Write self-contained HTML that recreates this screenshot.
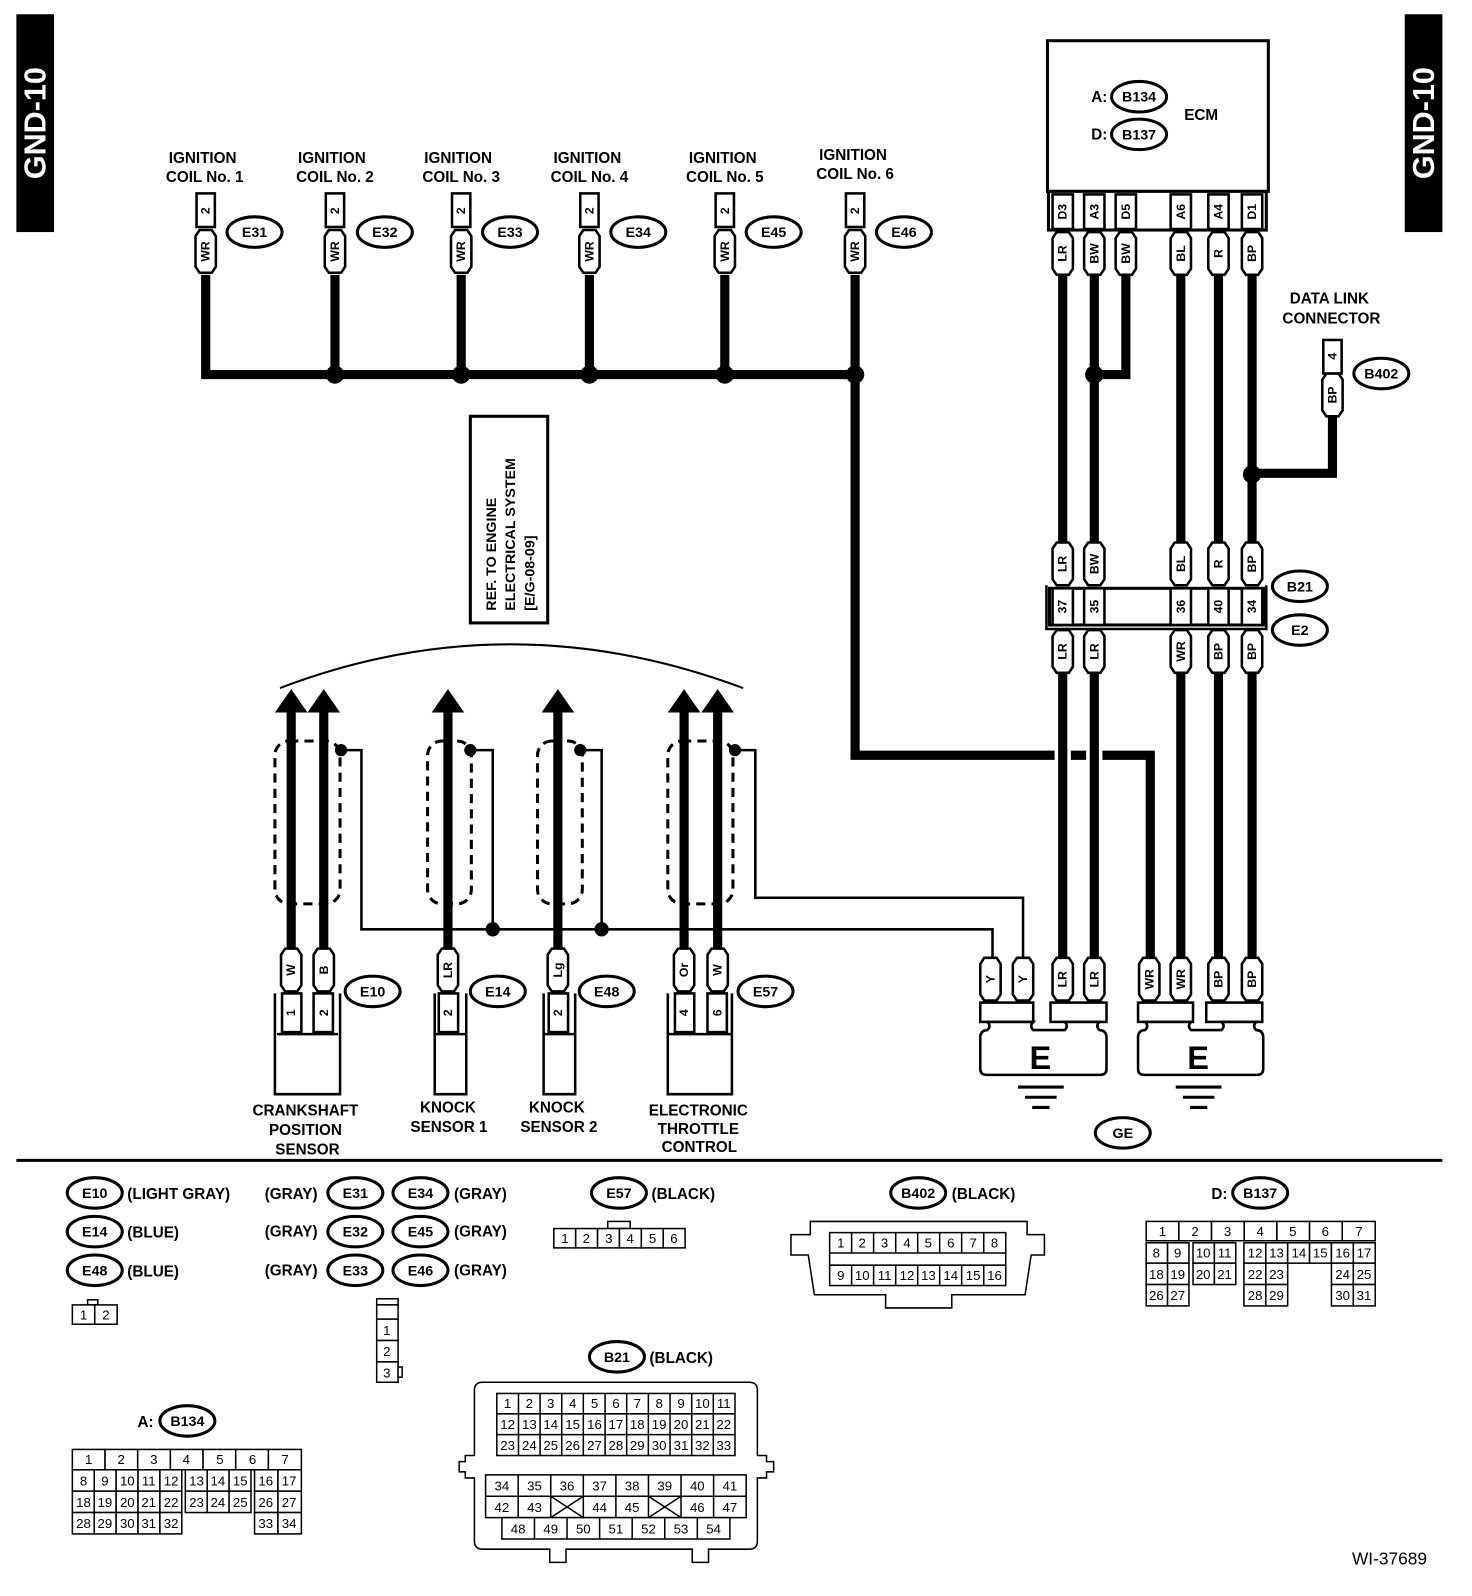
<!DOCTYPE html>
<html><head><meta charset="utf-8"><style>
html,body{margin:0;padding:0;background:#fff;}
svg{display:block;}
text{font-family:"Liberation Sans",Arial,sans-serif;font-weight:bold;fill:#000;}
.l{font-size:15px;text-anchor:middle;}
.p{font-size:12px;text-anchor:middle;dominant-baseline:central;}
.g{font-size:13px;font-weight:normal;text-anchor:middle;dominant-baseline:central;}
.o{font-size:14px;text-anchor:middle;dominant-baseline:central;}
.w{stroke:#000;stroke-width:9;fill:none;}
.t{stroke:#000;stroke-width:2.5;fill:none;}
.b{fill:#fff;stroke:#000;stroke-width:2.5;}
.c{fill:#fff;stroke:#000;stroke-width:1.5;}
.ov{fill:#fff;stroke:#000;stroke-width:3;}
</style></head><body>
<svg width="1472" height="1596" viewBox="0 0 1446 1568" xmlns="http://www.w3.org/2000/svg">
<defs>
<path id="tg" d="M-10 -15L-6 -21H6L10 -15V15L6 21H-6L-10 15Z" fill="#fff" stroke="#000" stroke-width="2.5"/>
<ellipse id="ov" rx="27" ry="15" fill="#fff" stroke="#000" stroke-width="3"/>
</defs>

<!-- GND-10 labels -->
<rect x="16" y="14" width="37" height="214" fill="#000"/>
<text transform="translate(35,121) rotate(-90)" style="font-size:30px;fill:#fff;text-anchor:middle;dominant-baseline:central">GND-10</text>
<rect x="1380" y="14" width="37" height="214" fill="#000"/>
<text transform="translate(1399,121) rotate(-90)" style="font-size:30px;fill:#fff;text-anchor:middle;dominant-baseline:central">GND-10</text>

<!-- Ignition coil labels -->
<text class="l" x="199" y="160">IGNITION</text><text class="l" x="201" y="179">COIL No. 1</text>
<text class="l" x="326" y="160">IGNITION</text><text class="l" x="329" y="179">COIL No. 2</text>
<text class="l" x="450" y="160">IGNITION</text><text class="l" x="453" y="179">COIL No. 3</text>
<text class="l" x="577" y="160">IGNITION</text><text class="l" x="579" y="179">COIL No. 4</text>
<text class="l" x="710" y="160">IGNITION</text><text class="l" x="712" y="179">COIL No. 5</text>
<text class="l" x="838" y="157">IGNITION</text><text class="l" x="840" y="176">COIL No. 6</text>

<!-- coil wires -->
<path class="w" d="M202 270V368H840M329 270V368M453 270V368M579 270V368M712 270V368M840 270V742H1036M1052 742H1067M1083 742H1130V940"/>
<g fill="#000"><circle cx="329" cy="368" r="9"/><circle cx="453" cy="368" r="9"/><circle cx="579" cy="368" r="9"/><circle cx="712" cy="368" r="9"/><circle cx="840" cy="368" r="9"/></g>

<!-- coil connectors -->
<g>
<rect class="b" x="193" y="190" width="18" height="33"/><text class="p" transform="translate(202,207) rotate(-90)">2</text>
<use href="#tg" x="202" y="247"/><text class="p" transform="translate(202,247) rotate(-90)">WR</text>
<use href="#ov" x="250" y="228"/><text class="o" x="250" y="229">E31</text>
<rect class="b" x="320" y="190" width="18" height="33"/><text class="p" transform="translate(329,207) rotate(-90)">2</text>
<use href="#tg" x="329" y="247"/><text class="p" transform="translate(329,247) rotate(-90)">WR</text>
<use href="#ov" x="378" y="228"/><text class="o" x="378" y="229">E32</text>
<rect class="b" x="444" y="190" width="18" height="33"/><text class="p" transform="translate(453,207) rotate(-90)">2</text>
<use href="#tg" x="453" y="247"/><text class="p" transform="translate(453,247) rotate(-90)">WR</text>
<use href="#ov" x="501" y="228"/><text class="o" x="501" y="229">E33</text>
<rect class="b" x="570" y="190" width="18" height="33"/><text class="p" transform="translate(579,207) rotate(-90)">2</text>
<use href="#tg" x="579" y="247"/><text class="p" transform="translate(579,247) rotate(-90)">WR</text>
<use href="#ov" x="627" y="228"/><text class="o" x="627" y="229">E34</text>
<rect class="b" x="703" y="190" width="18" height="33"/><text class="p" transform="translate(712,207) rotate(-90)">2</text>
<use href="#tg" x="712" y="247"/><text class="p" transform="translate(712,247) rotate(-90)">WR</text>
<use href="#ov" x="760" y="228"/><text class="o" x="760" y="229">E45</text>
<rect class="b" x="831" y="190" width="18" height="33"/><text class="p" transform="translate(840,207) rotate(-90)">2</text>
<use href="#tg" x="840" y="247"/><text class="p" transform="translate(840,247) rotate(-90)">WR</text>
<use href="#ov" x="888" y="228"/><text class="o" x="888" y="229">E46</text>
</g>

<!-- ECM -->
<rect x="1029" y="40" width="217" height="148" fill="#fff" stroke="#000" stroke-width="3"/>
<text style="font-size:15px" x="1072" y="100">A:</text>
<use href="#ov" x="1119" y="95"/><text class="o" x="1119" y="96">B134</text>
<text style="font-size:15px" x="1072" y="137">D:</text>
<use href="#ov" x="1119" y="132"/><text class="o" x="1119" y="133">B137</text>
<text class="l" x="1180" y="118">ECM</text>
<rect x="1030" y="188" width="214" height="38" fill="#fff" stroke="#000" stroke-width="3"/>
<g>
<rect class="b" x="1034" y="191" width="20" height="34"/><text class="p" transform="translate(1044,208) rotate(-90)">D3</text>
<rect class="b" x="1065" y="191" width="20" height="34"/><text class="p" transform="translate(1075,208) rotate(-90)">A3</text>
<rect class="b" x="1096" y="191" width="20" height="34"/><text class="p" transform="translate(1106,208) rotate(-90)">D5</text>
<rect class="b" x="1150" y="191" width="20" height="34"/><text class="p" transform="translate(1160,208) rotate(-90)">A6</text>
<rect class="b" x="1187" y="191" width="20" height="34"/><text class="p" transform="translate(1197,208) rotate(-90)">A4</text>
<rect class="b" x="1220" y="191" width="20" height="34"/><text class="p" transform="translate(1230,208) rotate(-90)">D1</text>
</g>
<path class="w" d="M1044 270V536M1075 270V536M1106 270V368H1075M1160 270V536M1197 270V536M1230 270V536"/>
<path class="w" d="M1309 405V465H1230"/>
<circle cx="1075" cy="368" r="9"/><circle cx="1230" cy="466" r="9"/>
<use href="#tg" x="1044" y="249"/><text class="p" transform="translate(1044,249) rotate(-90)">LR</text>
<use href="#tg" x="1075" y="249"/><text class="p" transform="translate(1075,249) rotate(-90)">BW</text>
<use href="#tg" x="1106" y="249"/><text class="p" transform="translate(1106,249) rotate(-90)">BW</text>
<use href="#tg" x="1160" y="249"/><text class="p" transform="translate(1160,249) rotate(-90)">BL</text>
<use href="#tg" x="1197" y="249"/><text class="p" transform="translate(1197,249) rotate(-90)">R</text>
<use href="#tg" x="1230" y="249"/><text class="p" transform="translate(1230,249) rotate(-90)">BP</text>

<!-- Data link -->
<text class="l" x="1306" y="298">DATA LINK</text>
<text class="l" x="1308" y="318">CONNECTOR</text>
<rect class="b" x="1300" y="334" width="18" height="33"/><text class="p" transform="translate(1309,350) rotate(-90)">4</text>
<use href="#tg" x="1309" y="388"/><text class="p" transform="translate(1309,388) rotate(-90)">BP</text>
<use href="#ov" x="1357" y="367"/><text class="o" x="1357" y="368">B402</text>

<!-- B21/E2 -->
<use href="#tg" x="1044" y="554"/><text class="p" transform="translate(1044,554) rotate(-90)">LR</text>
<use href="#tg" x="1075" y="554"/><text class="p" transform="translate(1075,554) rotate(-90)">BW</text>
<use href="#tg" x="1160" y="554"/><text class="p" transform="translate(1160,554) rotate(-90)">BL</text>
<use href="#tg" x="1197" y="554"/><text class="p" transform="translate(1197,554) rotate(-90)">R</text>
<use href="#tg" x="1230" y="554"/><text class="p" transform="translate(1230,554) rotate(-90)">BP</text>
<path class="t" d="M1028 575V618H1244V575" stroke-width="3"/>
<rect x="1031" y="578" width="211" height="36" fill="#fff" stroke="#000" stroke-width="3"/>
<rect class="b" x="1034" y="578" width="20" height="36"/><text class="p" transform="translate(1044,596) rotate(-90)">37</text>
<rect class="b" x="1065" y="578" width="20" height="36"/><text class="p" transform="translate(1075,596) rotate(-90)">35</text>
<rect class="b" x="1150" y="578" width="20" height="36"/><text class="p" transform="translate(1160,596) rotate(-90)">36</text>
<rect class="b" x="1187" y="578" width="20" height="36"/><text class="p" transform="translate(1197,596) rotate(-90)">40</text>
<rect class="b" x="1220" y="578" width="20" height="36"/><text class="p" transform="translate(1230,596) rotate(-90)">34</text>
<use href="#ov" x="1277" y="576"/><text class="o" x="1277" y="577">B21</text>
<use href="#ov" x="1277" y="619"/><text class="o" x="1277" y="620">E2</text>
<path class="w" d="M1044 660V942M1075 660V942M1160 660V942M1197 660V942M1230 660V942"/>
<use href="#tg" x="1044" y="640"/><text class="p" transform="translate(1044,640) rotate(-90)">LR</text>
<use href="#tg" x="1075" y="640"/><text class="p" transform="translate(1075,640) rotate(-90)">LR</text>
<use href="#tg" x="1160" y="640"/><text class="p" transform="translate(1160,640) rotate(-90)">WR</text>
<use href="#tg" x="1197" y="640"/><text class="p" transform="translate(1197,640) rotate(-90)">BP</text>
<use href="#tg" x="1230" y="640"/><text class="p" transform="translate(1230,640) rotate(-90)">BP</text>

<!-- thin shield wires -->
<path class="t" d="M335 737H355V913H975V942M462 737H484V913M570 737H591V913M722 737H742V882H1005V942"/>
<circle cx="484" cy="913" r="7"/><circle cx="591" cy="913" r="7"/>

<!-- bottom ground tags -->
<use href="#tg" x="973" y="962"/><text class="p" transform="translate(973,962) rotate(-90)">Y</text>
<use href="#tg" x="1005" y="962"/><text class="p" transform="translate(1005,962) rotate(-90)">Y</text>
<use href="#tg" x="1044" y="962"/><text class="p" transform="translate(1044,962) rotate(-90)">LR</text>
<use href="#tg" x="1075" y="962"/><text class="p" transform="translate(1075,962) rotate(-90)">LR</text>
<use href="#tg" x="1129" y="962"/><text class="p" transform="translate(1129,962) rotate(-90)">WR</text>
<use href="#tg" x="1160" y="962"/><text class="p" transform="translate(1160,962) rotate(-90)">WR</text>
<use href="#tg" x="1197" y="962"/><text class="p" transform="translate(1197,962) rotate(-90)">BP</text>
<use href="#tg" x="1230" y="962"/><text class="p" transform="translate(1230,962) rotate(-90)">BP</text>
<rect class="b" x="963" y="985" width="52" height="19"/>
<rect class="b" x="1032" y="985" width="55" height="19"/>
<rect class="b" x="1118" y="985" width="54" height="19"/>
<rect class="b" x="1185" y="985" width="55" height="19"/>
<path class="b" d="M970 1004q4 4 0 8q-6 0 -7 6V1050q0 6 6 6H1081q6 0 6-6V1018q-1-6-7-6q-4-4 0-8H1046q4 4 0 8H1015q-4-4 0-8Z"/>
<path class="b" d="M1125 1004q4 4 0 8q-6 0 -7 6V1050q0 6 6 6H1235q6 0 6-6V1018q-1-6-7-6q-4-4 0-8H1200q4 4 0 8H1170q-4-4 0-8Z"/>
<text x="1022" y="1050" style="font-size:32px;text-anchor:middle">E</text>
<text x="1177" y="1050" style="font-size:32px;text-anchor:middle">E</text>
<path stroke="#000" stroke-width="3" d="M1000 1068H1045M1007 1078H1038M1014 1088H1031M1155 1068H1200M1162 1078H1193M1169 1088H1186"/>
<use href="#ov" x="1103" y="1113"/><text class="o" x="1103" y="1114">GE</text>

<!-- REF box -->
<rect x="462" y="409" width="76" height="203" fill="#fff" stroke="#000" stroke-width="3"/>
<text transform="translate(487,600) rotate(-90)" style="font-size:14px">REF. TO ENGINE</text>
<text transform="translate(506,600) rotate(-90)" style="font-size:14px">ELECTRICAL SYSTEM</text>
<text transform="translate(525,600) rotate(-90)" style="font-size:14px">[E/G-08-09]</text>

<!-- arc -->
<path d="M275 676Q500 590 730 676" fill="none" stroke="#000" stroke-width="2"/>

<!-- sensor wires with arrows -->
<path class="w" d="M286 698V935M318 698V935M440 698V935M548 698V935M672 698V935M705 698V935"/>
<g fill="#000">
<path d="M286 677L302 700H270Z"/><path d="M318 677L334 700H302Z"/>
<path d="M440 677L456 700H424Z"/><path d="M548 677L564 700H532Z"/>
<path d="M672 677L688 700H656Z"/><path d="M705 677L721 700H689Z"/>
</g>
<!-- shields -->
<g fill="none" stroke="#000" stroke-width="3" stroke-dasharray="9,6">
<rect x="270" y="728" width="64" height="160" rx="14"/>
<rect x="420" y="728" width="43" height="160" rx="14"/>
<rect x="528" y="728" width="44" height="160" rx="14"/>
<rect x="656" y="728" width="64" height="160" rx="14"/>
</g>
<g fill="#000"><circle cx="335" cy="737" r="6"/><circle cx="462" cy="737" r="6"/><circle cx="570" cy="737" r="6"/><circle cx="722" cy="737" r="6"/></g>

<!-- sensor tags -->
<use href="#tg" x="286" y="953"/><text class="p" transform="translate(286,953) rotate(-90)">W</text>
<use href="#tg" x="318" y="953"/><text class="p" transform="translate(318,953) rotate(-90)">B</text>
<use href="#tg" x="440" y="953"/><text class="p" transform="translate(440,953) rotate(-90)">LR</text>
<use href="#tg" x="548" y="953"/><text class="p" transform="translate(548,953) rotate(-90)">Lg</text>
<use href="#tg" x="672" y="953"/><text class="p" transform="translate(672,953) rotate(-90)">Or</text>
<use href="#tg" x="705" y="953"/><text class="p" transform="translate(705,953) rotate(-90)">W</text>
<!-- sensor bodies -->
<g>
<path class="t" d="M270 976V1075H334V976M272 1016H332" stroke-width="3"/>
<rect class="b" x="277" y="976" width="19" height="38"/><text class="p" transform="translate(286,995) rotate(-90)">1</text>
<rect class="b" x="308" y="976" width="19" height="38"/><text class="p" transform="translate(318,995) rotate(-90)">2</text>
<path class="t" d="M427 976V1075H458V976M427 1016H458" stroke-width="3"/>
<rect class="b" x="431" y="976" width="19" height="38"/><text class="p" transform="translate(440,995) rotate(-90)">2</text>
<path class="t" d="M534 976V1075H565V976M534 1016H565" stroke-width="3"/>
<rect class="b" x="539" y="976" width="19" height="38"/><text class="p" transform="translate(548,995) rotate(-90)">2</text>
<path class="t" d="M656 976V1075H719V976M656 1016H719" stroke-width="3"/>
<rect class="b" x="663" y="976" width="19" height="38"/><text class="p" transform="translate(672,995) rotate(-90)">4</text>
<rect class="b" x="695" y="976" width="19" height="38"/><text class="p" transform="translate(705,995) rotate(-90)">6</text>
</g>
<use href="#ov" x="366" y="974"/><text class="o" x="366" y="975">E10</text>
<use href="#ov" x="489" y="974"/><text class="o" x="489" y="975">E14</text>
<use href="#ov" x="596" y="974"/><text class="o" x="596" y="975">E48</text>
<use href="#ov" x="752" y="974"/><text class="o" x="752" y="975">E57</text>
<text class="l" x="300" y="1096">CRANKSHAFT</text><text class="l" x="300" y="1115">POSITION</text><text class="l" x="302" y="1134">SENSOR</text>
<text class="l" x="440" y="1093">KNOCK</text><text class="l" x="441" y="1112">SENSOR 1</text>
<text class="l" x="547" y="1093">KNOCK</text><text class="l" x="549" y="1112">SENSOR 2</text>
<text class="l" x="686" y="1096">ELECTRONIC</text><text class="l" x="686" y="1114">THROTTLE</text><text class="l" x="687" y="1132">CONTROL</text>

<!-- divider -->
<line x1="16" y1="1140" x2="1417" y2="1140" stroke="#000" stroke-width="3"/>

<!-- legend left -->
<use href="#ov" x="93" y="1172"/><text class="o" x="93" y="1173">E10</text><text style="font-size:15px" x="125" y="1178">(LIGHT GRAY)</text>
<use href="#ov" x="93" y="1210"/><text class="o" x="93" y="1211">E14</text><text style="font-size:15px" x="125" y="1216">(BLUE)</text>
<use href="#ov" x="93" y="1248"/><text class="o" x="93" y="1249">E48</text><text style="font-size:15px" x="125" y="1254">(BLUE)</text>
<rect class="c" x="86" y="1277" width="10" height="5"/>
<rect class="c" x="71" y="1282" width="22" height="19"/><text class="g" x="82" y="1292">1</text>
<rect class="c" x="93" y="1282" width="22" height="19"/><text class="g" x="104" y="1292">2</text>

<text style="font-size:15px" x="260" y="1178">(GRAY)</text><use href="#ov" x="349" y="1172"/><text class="o" x="349" y="1173">E31</text>
<text style="font-size:15px" x="260" y="1215">(GRAY)</text><use href="#ov" x="349" y="1210"/><text class="o" x="349" y="1211">E32</text>
<text style="font-size:15px" x="260" y="1253">(GRAY)</text><use href="#ov" x="349" y="1248"/><text class="o" x="349" y="1249">E33</text>
<use href="#ov" x="413" y="1172"/><text class="o" x="413" y="1173">E34</text><text style="font-size:15px" x="446" y="1178">(GRAY)</text>
<use href="#ov" x="413" y="1210"/><text class="o" x="413" y="1211">E45</text><text style="font-size:15px" x="446" y="1215">(GRAY)</text>
<use href="#ov" x="413" y="1248"/><text class="o" x="413" y="1249">E46</text><text style="font-size:15px" x="446" y="1253">(GRAY)</text>
<rect class="c" x="370" y="1276" width="21" height="6"/>
<rect class="c" x="370" y="1282" width="21" height="14"/>
<rect class="c" x="370" y="1296" width="21" height="21"/><text class="g" x="380" y="1307">1</text>
<rect class="c" x="370" y="1317" width="21" height="21"/><text class="g" x="380" y="1328">2</text>
<rect class="c" x="370" y="1338" width="21" height="20"/><text class="g" x="380" y="1349">3</text>
<rect class="c" x="391" y="1343" width="4" height="10"/>

<!-- E57 -->
<use href="#ov" x="608" y="1172"/><text class="o" x="608" y="1173">E57</text><text style="font-size:15px" x="640" y="1178">(BLACK)</text>
<rect class="c" x="597" y="1200" width="22" height="7"/>
<g>
<rect class="c" x="544" y="1207" width="21.5" height="19"/><text class="g" x="555" y="1217">1</text>
<rect class="c" x="565.5" y="1207" width="21.5" height="19"/><text class="g" x="576" y="1217">2</text>
<rect class="c" x="587" y="1207" width="21.5" height="19"/><text class="g" x="598" y="1217">3</text>
<rect class="c" x="608.5" y="1207" width="21.5" height="19"/><text class="g" x="619" y="1217">4</text>
<rect class="c" x="630" y="1207" width="21.5" height="19"/><text class="g" x="641" y="1217">5</text>
<rect class="c" x="651.5" y="1207" width="21.5" height="19"/><text class="g" x="662" y="1217">6</text>
</g>

<!-- B402 -->
<use href="#ov" x="902" y="1172"/><text class="o" x="902" y="1173">B402</text><text style="font-size:15px" x="935" y="1178">(BLACK)</text>
<path class="c" d="M796 1200H1009V1213H1026V1233H1013L1007 1272H935V1285H870V1272H800L794 1233H777V1213H796Z"/>
<rect class="c" x="815" y="1211" width="173" height="52"/>
<line x1="815" y1="1231" x2="988" y2="1231" stroke="#000" stroke-width="1.5"/>
<line x1="815" y1="1243" x2="988" y2="1243" stroke="#000" stroke-width="1.5"/>
<g stroke="#000" stroke-width="1.5">
<path d="M836.6 1211V1231M858.2 1211V1231M879.9 1211V1231M901.5 1211V1231M923.1 1211V1231M944.7 1211V1231M966.4 1211V1231M836.6 1243V1263M858.2 1243V1263M879.9 1243V1263M901.5 1243V1263M923.1 1243V1263M944.7 1243V1263M966.4 1243V1263"/>
</g>
<g>
<text class="g" x="826" y="1221">1</text><text class="g" x="847" y="1221">2</text><text class="g" x="869" y="1221">3</text><text class="g" x="891" y="1221">4</text><text class="g" x="912" y="1221">5</text><text class="g" x="934" y="1221">6</text><text class="g" x="956" y="1221">7</text><text class="g" x="977" y="1221">8</text>
<text class="g" x="826" y="1253">9</text><text class="g" x="847" y="1253">10</text><text class="g" x="869" y="1253">11</text><text class="g" x="891" y="1253">12</text><text class="g" x="912" y="1253">13</text><text class="g" x="934" y="1253">14</text><text class="g" x="956" y="1253">15</text><text class="g" x="977" y="1253">16</text>
</g>

<!-- B137 -->
<text style="font-size:15px" x="1190" y="1178">D:</text><use href="#ov" x="1238" y="1172"/><text class="o" x="1238" y="1173">B137</text>
<g>
<rect class="c" x="1126" y="1200" width="32.1" height="19"/><text class="g" x="1142" y="1210">1</text>
<rect class="c" x="1158.1" y="1200" width="32.1" height="19"/><text class="g" x="1174" y="1210">2</text>
<rect class="c" x="1190.2" y="1200" width="32.1" height="19"/><text class="g" x="1206" y="1210">3</text>
<rect class="c" x="1222.3" y="1200" width="32.1" height="19"/><text class="g" x="1238" y="1210">4</text>
<rect class="c" x="1254.4" y="1200" width="32.1" height="19"/><text class="g" x="1270" y="1210">5</text>
<rect class="c" x="1286.5" y="1200" width="32.1" height="19"/><text class="g" x="1302" y="1210">6</text>
<rect class="c" x="1318.6" y="1200" width="32.4" height="19"/><text class="g" x="1335" y="1210">7</text>
<rect class="c" x="1126" y="1221" width="21" height="20"/><text class="g" x="1136" y="1231">8</text>
<rect class="c" x="1147" y="1221" width="21" height="20"/><text class="g" x="1157" y="1231">9</text>
<rect class="c" x="1172" y="1221" width="21" height="20"/><text class="g" x="1182" y="1231">10</text>
<rect class="c" x="1193" y="1221" width="21" height="20"/><text class="g" x="1203" y="1231">11</text>
<rect class="c" x="1222" y="1221" width="21.5" height="20"/><text class="g" x="1233" y="1231">12</text>
<rect class="c" x="1243.5" y="1221" width="21.5" height="20"/><text class="g" x="1254" y="1231">13</text>
<rect class="c" x="1265" y="1221" width="21.5" height="20"/><text class="g" x="1276" y="1231">14</text>
<rect class="c" x="1286.5" y="1221" width="21.5" height="20"/><text class="g" x="1297" y="1231">15</text>
<rect class="c" x="1308" y="1221" width="21.5" height="20"/><text class="g" x="1319" y="1231">16</text>
<rect class="c" x="1329.5" y="1221" width="21.5" height="20"/><text class="g" x="1340" y="1231">17</text>
<rect class="c" x="1126" y="1241" width="21" height="21"/><text class="g" x="1136" y="1252">18</text>
<rect class="c" x="1147" y="1241" width="21" height="21"/><text class="g" x="1157" y="1252">19</text>
<rect class="c" x="1172" y="1241" width="21" height="21"/><text class="g" x="1182" y="1252">20</text>
<rect class="c" x="1193" y="1241" width="21" height="21"/><text class="g" x="1203" y="1252">21</text>
<rect class="c" x="1222" y="1241" width="21.5" height="21"/><text class="g" x="1233" y="1252">22</text>
<rect class="c" x="1243.5" y="1241" width="21.5" height="21"/><text class="g" x="1254" y="1252">23</text>
<rect class="c" x="1308" y="1241" width="21.5" height="21"/><text class="g" x="1319" y="1252">24</text>
<rect class="c" x="1329.5" y="1241" width="21.5" height="21"/><text class="g" x="1340" y="1252">25</text>
<rect class="c" x="1126" y="1262" width="21" height="21"/><text class="g" x="1136" y="1273">26</text>
<rect class="c" x="1147" y="1262" width="21" height="21"/><text class="g" x="1157" y="1273">27</text>
<rect class="c" x="1222" y="1262" width="21.5" height="21"/><text class="g" x="1233" y="1273">28</text>
<rect class="c" x="1243.5" y="1262" width="21.5" height="21"/><text class="g" x="1254" y="1273">29</text>
<rect class="c" x="1308" y="1262" width="21.5" height="21"/><text class="g" x="1319" y="1273">30</text>
<rect class="c" x="1329.5" y="1262" width="21.5" height="21"/><text class="g" x="1340" y="1273">31</text>
</g>

<!-- B134 -->
<text style="font-size:15px" x="135" y="1402">A:</text><use href="#ov" x="184" y="1396"/><text class="o" x="184" y="1397">B134</text>
<g>
<rect class="c" x="71" y="1424" width="32.1" height="20"/><text class="g" x="87" y="1434">1</text>
<rect class="c" x="103.1" y="1424" width="32.1" height="20"/><text class="g" x="119" y="1434">2</text>
<rect class="c" x="135.2" y="1424" width="32.1" height="20"/><text class="g" x="151" y="1434">3</text>
<rect class="c" x="167.3" y="1424" width="32.1" height="20"/><text class="g" x="183" y="1434">4</text>
<rect class="c" x="199.4" y="1424" width="32.1" height="20"/><text class="g" x="216" y="1434">5</text>
<rect class="c" x="231.5" y="1424" width="32.1" height="20"/><text class="g" x="248" y="1434">6</text>
<rect class="c" x="263.6" y="1424" width="32.4" height="20"/><text class="g" x="280" y="1434">7</text>
<rect class="c" x="71" y="1444" width="21.5" height="21"/><text class="g" x="82" y="1455">8</text>
<rect class="c" x="92.5" y="1444" width="21.5" height="21"/><text class="g" x="103" y="1455">9</text>
<rect class="c" x="114" y="1444" width="21.5" height="21"/><text class="g" x="125" y="1455">10</text>
<rect class="c" x="135.5" y="1444" width="21.5" height="21"/><text class="g" x="146" y="1455">11</text>
<rect class="c" x="157" y="1444" width="21.5" height="21"/><text class="g" x="168" y="1455">12</text>
<rect class="c" x="182" y="1444" width="21.5" height="21"/><text class="g" x="193" y="1455">13</text>
<rect class="c" x="203.5" y="1444" width="21.5" height="21"/><text class="g" x="214" y="1455">14</text>
<rect class="c" x="225" y="1444" width="21.5" height="21"/><text class="g" x="236" y="1455">15</text>
<rect class="c" x="250" y="1444" width="23" height="21"/><text class="g" x="261" y="1455">16</text>
<rect class="c" x="273" y="1444" width="23" height="21"/><text class="g" x="284" y="1455">17</text>
<rect class="c" x="71" y="1465" width="21.5" height="21"/><text class="g" x="82" y="1476">18</text>
<rect class="c" x="92.5" y="1465" width="21.5" height="21"/><text class="g" x="103" y="1476">19</text>
<rect class="c" x="114" y="1465" width="21.5" height="21"/><text class="g" x="125" y="1476">20</text>
<rect class="c" x="135.5" y="1465" width="21.5" height="21"/><text class="g" x="146" y="1476">21</text>
<rect class="c" x="157" y="1465" width="21.5" height="21"/><text class="g" x="168" y="1476">22</text>
<rect class="c" x="182" y="1465" width="21.5" height="21"/><text class="g" x="193" y="1476">23</text>
<rect class="c" x="203.5" y="1465" width="21.5" height="21"/><text class="g" x="214" y="1476">24</text>
<rect class="c" x="225" y="1465" width="21.5" height="21"/><text class="g" x="236" y="1476">25</text>
<rect class="c" x="250" y="1465" width="23" height="21"/><text class="g" x="261" y="1476">26</text>
<rect class="c" x="273" y="1465" width="23" height="21"/><text class="g" x="284" y="1476">27</text>
<rect class="c" x="71" y="1486" width="21.5" height="21"/><text class="g" x="82" y="1497">28</text>
<rect class="c" x="92.5" y="1486" width="21.5" height="21"/><text class="g" x="103" y="1497">29</text>
<rect class="c" x="114" y="1486" width="21.5" height="21"/><text class="g" x="125" y="1497">30</text>
<rect class="c" x="135.5" y="1486" width="21.5" height="21"/><text class="g" x="146" y="1497">31</text>
<rect class="c" x="157" y="1486" width="21.5" height="21"/><text class="g" x="168" y="1497">32</text>
<rect class="c" x="250" y="1486" width="23" height="21"/><text class="g" x="261" y="1497">33</text>
<rect class="c" x="273" y="1486" width="23" height="21"/><text class="g" x="284" y="1497">34</text>
</g>

<!-- B21 -->
<use href="#ov" x="606" y="1333"/><text class="o" x="606" y="1334">B21</text><text style="font-size:15px" x="638" y="1339">(BLACK)</text>
<path class="c" d="M474 1358H736Q744 1358 744 1366V1430H753V1436H760V1446H753V1452H744V1514Q744 1522 736 1522H696V1535H680V1522H556V1535H540V1522H474Q466 1522 466 1514V1452H457V1446H451V1436H457V1430H466V1366Q466 1358 474 1358Z"/>
<g>
<rect class="c" x="488" y="1369" width="234" height="61"/>
<path stroke="#000" stroke-width="1.5" d="M488 1389H722M488 1409.5H722M509.3 1369V1430M530.5 1369V1430M551.8 1369V1430M573 1369V1430M594.4 1369V1430M615.6 1369V1430M636.9 1369V1430M658.2 1369V1430M679.5 1369V1430M700.7 1369V1430"/>
<text class="g" x="498.6" y="1379">1</text><text class="g" x="520" y="1379">2</text><text class="g" x="541" y="1379">3</text><text class="g" x="562.5" y="1379">4</text><text class="g" x="584" y="1379">5</text><text class="g" x="605" y="1379">6</text><text class="g" x="626" y="1379">7</text><text class="g" x="647.5" y="1379">8</text><text class="g" x="669" y="1379">9</text><text class="g" x="690" y="1379">10</text><text class="g" x="711" y="1379">11</text>
<text class="g" x="498.6" y="1399.5">12</text><text class="g" x="520" y="1399.5">13</text><text class="g" x="541" y="1399.5">14</text><text class="g" x="562.5" y="1399.5">15</text><text class="g" x="584" y="1399.5">16</text><text class="g" x="605" y="1399.5">17</text><text class="g" x="626" y="1399.5">18</text><text class="g" x="647.5" y="1399.5">19</text><text class="g" x="669" y="1399.5">20</text><text class="g" x="690" y="1399.5">21</text><text class="g" x="711" y="1399.5">22</text>
<text class="g" x="498.6" y="1420">23</text><text class="g" x="520" y="1420">24</text><text class="g" x="541" y="1420">25</text><text class="g" x="562.5" y="1420">26</text><text class="g" x="584" y="1420">27</text><text class="g" x="605" y="1420">28</text><text class="g" x="626" y="1420">29</text><text class="g" x="647.5" y="1420">30</text><text class="g" x="669" y="1420">31</text><text class="g" x="690" y="1420">32</text><text class="g" x="711" y="1420">33</text>
</g>
<g>
<rect class="c" x="477" y="1449" width="256" height="42"/>
<path stroke="#000" stroke-width="1.5" d="M477 1470H733M509 1449V1491M541 1449V1491M573 1449V1491M605 1449V1491M637 1449V1491M669 1449V1491M701 1449V1491M541 1470L573 1491M573 1470L541 1491M637 1470L669 1491M669 1470L637 1491"/>
<rect class="c" x="493" y="1491" width="224" height="21"/>
<path stroke="#000" stroke-width="1.5" d="M525 1491V1512M557 1491V1512M589 1491V1512M621 1491V1512M653 1491V1512M685 1491V1512"/>
<text class="g" x="493" y="1460">34</text><text class="g" x="525" y="1460">35</text><text class="g" x="557" y="1460">36</text><text class="g" x="589" y="1460">37</text><text class="g" x="621" y="1460">38</text><text class="g" x="653" y="1460">39</text><text class="g" x="685" y="1460">40</text><text class="g" x="717" y="1460">41</text>
<text class="g" x="493" y="1481">42</text><text class="g" x="525" y="1481">43</text><text class="g" x="589" y="1481">44</text><text class="g" x="621" y="1481">45</text><text class="g" x="685" y="1481">46</text><text class="g" x="717" y="1481">47</text>
<text class="g" x="509" y="1502">48</text><text class="g" x="541" y="1502">49</text><text class="g" x="573" y="1502">50</text><text class="g" x="605" y="1502">51</text><text class="g" x="637" y="1502">52</text><text class="g" x="669" y="1502">53</text><text class="g" x="701" y="1502">54</text>
</g>

<text x="1365" y="1537" style="font-size:17px;font-weight:normal;text-anchor:middle">WI-37689</text>
</svg>
</body></html>
